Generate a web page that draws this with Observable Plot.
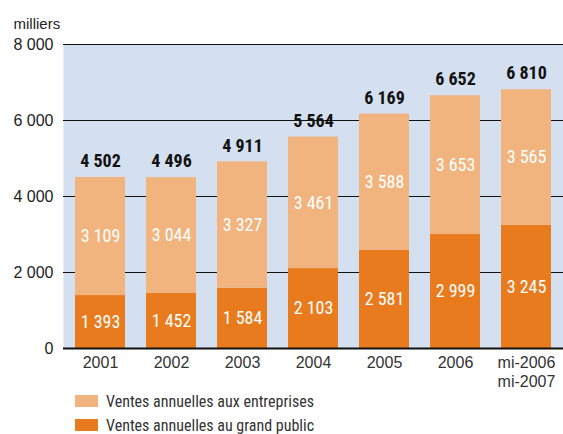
<!DOCTYPE html>
<html><head><meta charset="utf-8">
<script src="https://cdn.jsdelivr.net/npm/d3@7"></script>
<script src="https://cdn.jsdelivr.net/npm/@observablehq/plot@0.6"></script>
<style>
body{margin:0;background:#fff;font-family:"Liberation Sans",Arial,sans-serif;overflow:hidden;}
#chart svg{display:block;}
#legend{margin-top:-3px;padding-left:75px;font-family:"Roboto Condensed",sans-serif;font-size:16px;color:#333;}
.row{display:flex;align-items:center;height:24px;}
.sw{width:23px;height:12px;margin-right:8px;}
</style></head><body>
<div id="chart"></div>
<div id="legend"></div>
<script>
const periods = ["2001","2002","2003","2004","2005","2006","mi-2006\nmi-2007"];
const grandPublic = [1393,1452,1584,2103,2581,2999,3245];
const entreprises = [3109,3044,3327,3461,3588,3653,3565];
const totals = [4502,4496,4911,5564,6169,6652,6810];
const seriesNames = ["Ventes annuelles au grand public","Ventes annuelles aux entreprises"];
const colors = ["#e87b1e","#f2b47e"];
const yTicks = [0,2000,4000,6000,8000];

const fmt = v => d3.format(",")(v).replace(/,/g," ");
const rows = [];
periods.forEach((p,i)=>{
  rows.push({p, s:seriesNames[0], y1:0, y2:grandPublic[i], v:grandPublic[i]});
  rows.push({p, s:seriesNames[1], y1:grandPublic[i], y2:grandPublic[i]+entreprises[i], v:entreprises[i]});
});
const tot = periods.map((p,i)=>({p, v:totals[i], y:grandPublic[i]+entreprises[i]}));
const cond = '"Roboto Condensed",sans-serif';
const sans = '"Liberation Sans",Arial,sans-serif';

const chart = Plot.plot({
  width:563, height:392,
  marginLeft:63, marginRight:0, marginTop:44, marginBottom:44,
  style:{fontFamily:sans, fontSize:"15px", color:"#222", background:"#fff"},
  x:{domain:periods, paddingInner:0.3, paddingOuter:0.15, label:null},
  y:{domain:[0,8000], label:null},
  color:{domain:seriesNames, range:colors},
  marks:[
    Plot.frame({fill:"#d4dff0", stroke:null}),
    Plot.ruleY(yTicks.filter(d=>d>0), {stroke:"#111", strokeWidth:1}),
    Plot.barY(rows, {x:"p", y1:"y1", y2:"y2", fill:"s"}),
    Plot.ruleY([0], {stroke:"#111", strokeWidth:2}),
    Plot.text(rows, {x:"p", y:d=>(d.y1+d.y2)/2, text:d=>fmt(d.v), fill:"white", fontSize:18, fontFamily:cond}),
    Plot.text(tot, {x:"p", y:"y", text:d=>fmt(d.v), dy:-16, fill:"#111", fontSize:18, fontWeight:"bold", fontFamily:cond}),
    Plot.axisY({ticks:yTicks, tickSize:0, tickPadding:10, tickFormat:fmt, fontSize:16, fontFamily:sans, fill:"#222"}),
    Plot.axisX({tickSize:0, tickPadding:6, fontSize:16, lineHeight:1.2, fontFamily:sans, fill:"#333"}),
    Plot.text(["milliers"], {frameAnchor:"top-left", dx:-50, dy:-26, textAnchor:"start", fontSize:15, fontFamily:sans, fill:"#222"})
  ]
});
document.getElementById("chart").appendChild(chart);

const leg = document.getElementById("legend");
[1,0].forEach(i=>{
  const r = document.createElement("div"); r.className="row";
  r.innerHTML = `<div class="sw" style="background:${colors[i]}"></div><span>${seriesNames[i]}</span>`;
  leg.appendChild(r);
});
</script></body></html>
